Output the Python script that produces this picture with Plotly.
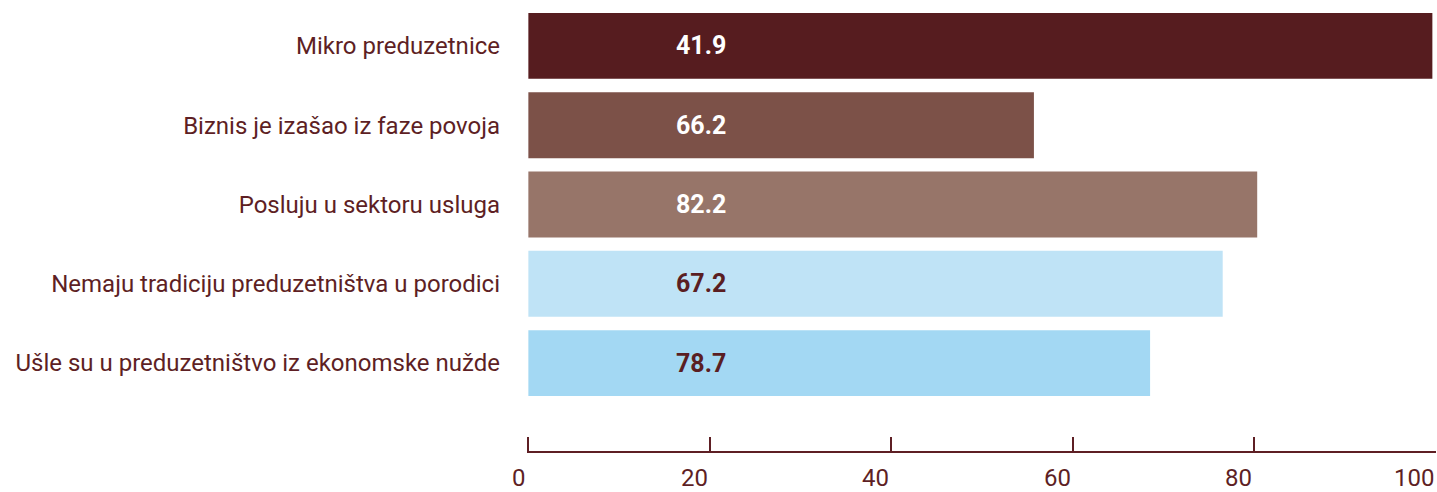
import plotly.graph_objects as go

categories = [
    "Mikro preduzetnice",
    "Biznis je izašao iz faze povoja",
    "Posluju u sektoru usluga",
    "Nemaju tradiciju preduzetništva u porodici",
    "Ušle su u preduzetništvo iz ekonomske nužde",
]
bar_values = [99.6, 55.7, 80.3, 76.5, 68.5]
value_labels = ["41.9", "66.2", "82.2", "67.2", "78.7"]
bar_colors = ["#561c1f", "#7c5148", "#977569", "#bfe3f6", "#a3d8f3"]
label_colors = ["#ffffff", "#ffffff", "#ffffff", "#5a1e22", "#5a1e22"]
x_ticks = [0, 20, 40, 60, 80, 100]

MAROON = "#5e1f24"
FONT = "Roboto"

ypos = list(range(len(categories)))

fig = go.Figure()
fig.add_trace(go.Bar(
    x=bar_values, y=ypos, orientation="h",
    marker=dict(color=bar_colors, line=dict(width=0)),
    width=0.83, hoverinfo="skip",
))

annotations = []
for i, (t, c) in enumerate(zip(value_labels, label_colors)):
    annotations.append(dict(
        x=19, y=i, xref="x", yref="y", text=f"<b>{t}</b>", showarrow=False,
        font=dict(family=FONT, size=25, color=c), xanchor="center", yanchor="middle",
    ))
for v in x_ticks:
    annotations.append(dict(
        x=v, y=0, xref="x", yref="paper", yshift=-27, text=str(v), showarrow=False,
        font=dict(family=FONT, size=24, color=MAROON), xanchor="right", yanchor="middle",
    ))

fig.update_layout(
    width=1437, height=492,
    margin=dict(l=527, r=1, t=0, b=41),
    paper_bgcolor="white", plot_bgcolor="white",
    showlegend=False,
    annotations=annotations,
    xaxis=dict(
        range=[-0.15, 100], tickvals=x_ticks, showticklabels=False,
        ticks="inside", ticklen=14, tickwidth=2, tickcolor=MAROON,
        showline=True, linewidth=2, linecolor=MAROON,
        showgrid=False, zeroline=False, fixedrange=True,
    ),
    yaxis=dict(
        range=[5.11, -0.58], tickvals=ypos, ticktext=categories,
        tickfont=dict(family=FONT, size=24, color=MAROON),
        ticks="", ticklabelstandoff=26,
        showline=False, showgrid=False, zeroline=False, fixedrange=True,
    ),
)

fig.write_html(
    "out.html",
    config={"displayModeBar": False},
    post_script="document.body.style.margin='0';document.body.style.padding='0';",
)
